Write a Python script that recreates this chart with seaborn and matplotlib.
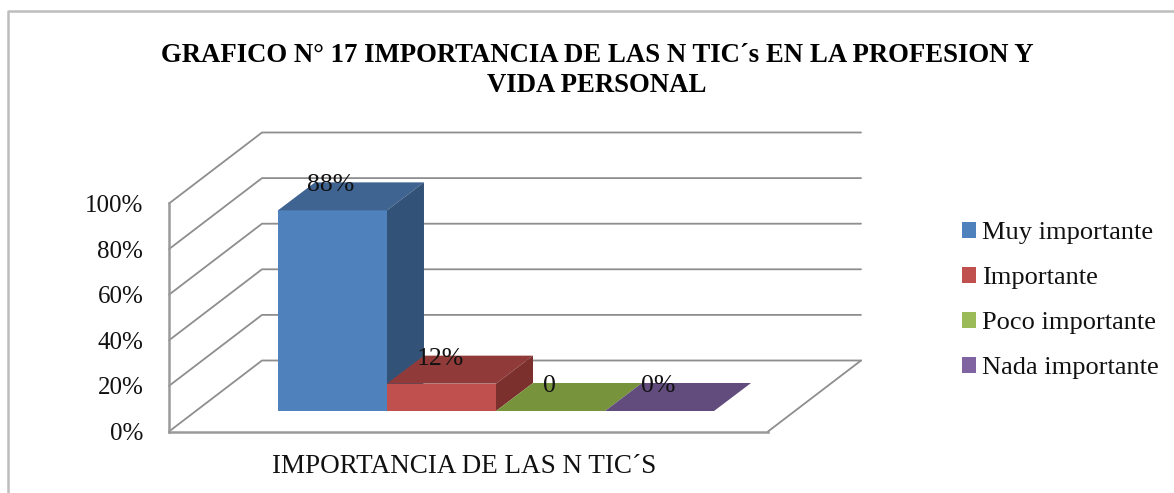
import matplotlib
matplotlib.use("Agg")
import matplotlib.pyplot as plt
import pandas as pd
import seaborn as sns
from matplotlib.lines import Line2D
from matplotlib.patches import Polygon, Patch
from matplotlib.transforms import Affine2D, IdentityTransform

# ---- data ----
category = ["IMPORTANCIA DE LAS N TIC´S"]
series = ["Muy importante", "Importante", "Poco importante", "Nada importante"]
values = [88, 12, 0, 0]
value_labels = ["88%", "12%", "0", "0%"]
y_ticks = [0, 20, 40, 60, 80, 100]
y_tick_labels = ["0%", "20%", "40%", "60%", "80%", "100%"]
title = "GRAFICO N° 17 IMPORTANCIA DE LAS N TIC´s EN LA PROFESION Y\nVIDA PERSONAL"

# ---- styles ----
front_colors = ["#4F81BD", "#C0504D", "#9BBB59", "#8064A2"]
top_colors = ["#3F6492", "#903B39", "#77933C", "#624C7D"]
side_colors = ["#335277", "#7B302E", "#64802F", "#4F3D66"]
grid_color = "#8E8E8E"
W, H = 1174, 493
WALL = (93, 71)          # depth of the chart box in pixels
BAR_SHIFT = (27.5, 20.5)  # bars stand inside the box
BAR_DEPTH = (37, 28)     # depth of each bar

sns.set_theme(style="white")
plt.rcParams["font.family"] = ["Liberation Serif", "DejaVu Sans"]
plt.rcParams["text.color"] = "#111111"

df = pd.DataFrame({"grupo": category * len(series), "serie": series, "valor": values})

fig = plt.figure(figsize=(W / 100, H / 100), dpi=100)
ax = fig.add_axes([169 / W, (H - 431.5) / H, (768 - 169) / W, 228 / H])
ax.patch.set_alpha(0)

sns.barplot(data=df, x="grupo", y="valor", hue="serie", hue_order=series,
            palette=front_colors, saturation=1, width=0.728, gap=0, dodge=True,
            legend=False, ax=ax, zorder=3)
ax.set_xlim(-0.5, 0.5)
ax.set_ylim(0, 100)
ax.set_xlabel("")
ax.set_ylabel("")
ax.set_yticks(y_ticks)
ax.set_yticklabels(y_tick_labels, fontsize=18, color="#111111")
ax.tick_params(axis="y", length=0, pad=18.5)
ax.tick_params(axis="x", length=0, pad=16, labelsize=19.5, labelcolor="#111111")
for lab in ax.get_xticklabels():
    lab.set_transform(lab.get_transform() + Affine2D().translate(-4.5, 0))

for side in ("top", "right"):
    ax.spines[side].set_visible(False)
for side in ("left", "bottom"):
    ax.spines[side].set_color("#9A9A9A")
    ax.spines[side].set_linewidth(1.8)

# box walls: gridlines run from the value axis back and along the rear wall
fig.canvas.draw()
to_px = ax.transData.transform
ident = IdentityTransform()
x0, x1 = ax.get_xlim()
for v in y_ticks:
    (px, py) = to_px((x0, v))
    (qx, _) = to_px((x1, v))
    ax.add_line(Line2D([px, px + WALL[0], qx + WALL[0]], [py, py + WALL[1], py + WALL[1]],
                       color=grid_color, lw=1.3, transform=ident, clip_on=False, zorder=1))
(rx, ry) = to_px((x1, 0))
ax.add_line(Line2D([rx, rx + WALL[0]], [ry, ry + WALL[1]], color=grid_color, lw=1.3,
                   transform=ident, clip_on=False, zorder=1))

# bars: moved into the box, with top and side faces computed from each bar
bars = [p for c in ax.containers for p in c]
shift = Affine2D().translate(*BAR_SHIFT)
for i, (bar, lab) in enumerate(zip(bars, value_labels)):
    bar.set_transform(ax.transData + shift)
    bar.set_clip_on(False)
    bar.set_edgecolor("none")
    bar.set_zorder(3 + i)
    (lx, by) = to_px((bar.get_x(), 0))
    (rx2, ty) = to_px((bar.get_x() + bar.get_width(), bar.get_height()))
    lx, rx2 = lx + BAR_SHIFT[0], rx2 + BAR_SHIFT[0]
    by, ty = by + BAR_SHIFT[1], ty + BAR_SHIFT[1]
    dx, dy = BAR_DEPTH
    ax.add_patch(Polygon([(lx, ty), (rx2, ty), (rx2 + dx, ty + dy), (lx + dx, ty + dy)],
                         closed=True, fc=top_colors[i], ec="none", transform=ident,
                         clip_on=False, zorder=3 + i))
    if bar.get_height() > 0:
        ax.add_patch(Polygon([(rx2, by), (rx2 + dx, by + dy), (rx2 + dx, ty + dy), (rx2, ty)],
                             closed=True, fc=side_colors[i], ec="none", transform=ident,
                             clip_on=False, zorder=3 + i))
    ax.annotate(lab, (bar.get_x() + bar.get_width() / 2, bar.get_height()),
                xycoords="data", xytext=((BAR_SHIFT[0] - 1.5) * 0.72, (BAR_SHIFT[1] + 25) * 0.72),
                textcoords="offset points", ha="center", va="center",
                fontsize=18.5, color="#111111", zorder=20, annotation_clip=False)

handles = [Patch(fc=c, ec="none", label=s) for c, s in zip(front_colors, series)]
fig.legend(handles=handles, loc="upper left", bbox_to_anchor=(962 / W, 1 - 222 / H),
           frameon=False, fontsize=19, handlelength=0.53, handleheight=0.53,
           handletextpad=0.23, labelspacing=0.87, borderpad=0, borderaxespad=0,
           labelcolor="#111111")

fig.suptitle(title, x=597 / W, y=1 - 43 / H, va="top", ha="center",
             fontsize=19.3, fontweight="bold", color="black", linespacing=1.27)

# outer chart frame (left and top edges visible in the crop)
fig.add_artist(Line2D([8, 8, W], [0, H - 11, H - 11], color="#BDBDBD", lw=1.8, transform=ident))

fig.savefig("out.png", dpi=100, facecolor="white")
